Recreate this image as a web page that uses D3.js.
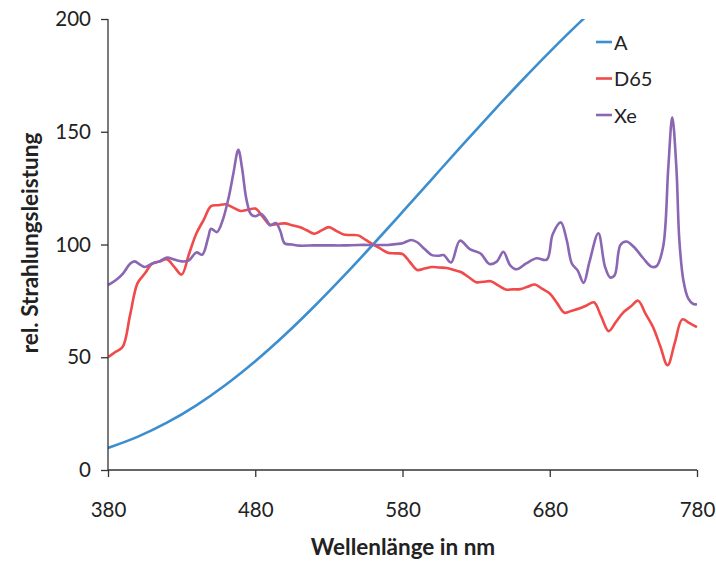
<!DOCTYPE html>
<html><head><meta charset="utf-8">
<script src="https://cdn.jsdelivr.net/npm/d3@7"></script>
<style>body{margin:0;background:#fff;} text{font-family:Lato,"Open Sans",sans-serif;fill:#222;}</style>
</head><body><svg id="c" width="716" height="561"></svg>
<script>
const xTicks = [380, 480, 580, 680, 780];
const yTicks = [0, 50, 100, 150, 200];
const seriesNames = ["A", "D65", "Xe"];
const seriesColors = ["#3d8ecf", "#f04a4a", "#8a66b3"];

const wlA = [380,400,420,440,460,480,500,520,540,560,580,600,620,640,660,680,700,720,740,760,780];
const valA = [9.8,14.71,20.99,28.7,37.81,48.24,59.86,72.5,85.95,100,114.44,129.04,143.62,157.98,171.96,185.43,198.26,210.36,221.67,232.12,241.68];

const wlD65 = [380,385,390,395,400,405,410,415,420,425,430,435,440,445,450,455,460,465,470,475,480,485,490,495,500,505,510,515,520,525,530,535,540,545,550,555,560,565,570,575,580,585,590,595,600,605,610,615,620,625,630,635,640,645,650,655,660,665,670,675,680,685,690,695,700,705,710,715,720,725,730,735,740,745,750,755,760,765,770,775,780];
const valD65 = [49.98,52.31,54.65,68.7,82.75,87.12,91.49,92.46,93.43,90.06,86.68,95.77,104.86,110.94,117.01,117.41,117.81,116.34,114.86,115.39,115.92,112.37,108.81,109.08,109.35,108.58,107.8,106.3,104.79,106.24,107.69,106.05,104.41,104.23,104.05,102.02,100,98.17,96.33,96.06,95.79,92.24,88.69,89.35,90.01,89.8,89.6,88.65,87.7,85.49,83.29,83.49,83.7,81.86,80.03,80.12,80.21,81.25,82.28,80.28,78.28,74,69.72,70.67,71.61,72.98,74.35,67.98,61.6,65.74,69.89,72.49,75.09,69.34,63.59,55.01,46.42,56.61,66.81,65.09,63.38];

const wlXe = [380,385,390,395,398,402,405,410,415,420,425,430,435,440,444,448,450,454,458,462,465,468.5,471,474,477,480,484,488,490,494,497,500,505,510,520,530,540,550,560,570,576,580,586,590,595,600,605,608,613,619,626,633,639,644,648.5,653,657.5,664,671,678,682,687.5,691.5,695,699,703,707,713,717.5,721,724,728,732,737,743.5,749,752.5,757,760.5,763.2,766,768,770.7,774,777.5,780];
const valXe = [82,84,87,91.5,92.5,91,90,91.5,92.5,94.2,93.3,92.5,93,96.5,95.5,103,107,105.5,111,121,131,142,134,120,113.5,112.5,113.5,110.5,108.5,109.5,106,100.5,100,99.5,99.6,99.6,99.6,99.8,99.8,99.8,100.2,100.6,102,101,98,95.3,95,95.3,92,101.7,97.8,96,91.4,92.4,96.8,90.9,89,91.6,93.9,93.3,104.5,109.8,102,91.6,88.4,83,92.4,105,90.2,85.4,86.3,99.8,101.3,99,93.9,90.2,90.4,99,134,156.4,134,102,84.3,76.1,73.6,73.5];

const svg = d3.select("#c");
const x = d3.scaleLinear().domain([380, 780]).range([108, 697]);
const y = d3.scaleLinear().domain([0, 200]).range([470, 19]);

svg.append("defs").append("clipPath").attr("id","clip")
  .append("rect").attr("x",108).attr("y",19).attr("width",600).attr("height",451);

const series = [
  {wl: wlA, v: valA},
  {wl: wlD65, v: valD65},
  {wl: wlXe, v: valXe}
];
const line = d3.line().x(d => x(d[0])).y(d => y(d[1])).curve(d3.curveCatmullRom.alpha(0.5));
const g = svg.append("g").attr("clip-path","url(#clip)");
series.forEach((s, i) => {
  g.append("path").datum(s.wl.map((w, j) => [w, s.v[j]]))
    .attr("d", line).attr("fill","none")
    .attr("stroke", seriesColors[i]).attr("stroke-width", 2.6)
    .attr("stroke-linejoin","round");
});

const yAxis = svg.append("g").attr("transform","translate(108,0)")
  .call(d3.axisLeft(y).tickValues(yTicks).tickSize(7).tickPadding(10).tickFormat(d3.format("d")));
const xAxis = svg.append("g").attr("transform","translate(0,470)")
  .call(d3.axisBottom(x).tickValues(xTicks).tickSize(7).tickPadding(25).tickFormat(d3.format("d")));
[yAxis, xAxis].forEach(a => {
  a.select(".domain").attr("stroke","#333").attr("stroke-width",1.3);
  a.selectAll(".tick line").attr("stroke","#333").attr("stroke-width",1.3);
  a.selectAll(".tick text").style("font-family","Lato,'Open Sans',sans-serif").style("font-size","20.5px").attr("fill","#222");
});
yAxis.select(".domain").attr("d","M0,19V470");
xAxis.select(".domain").attr("d","M108,0H697");

svg.append("text").attr("x", 403).attr("y", 555).attr("text-anchor","middle")
  .style("font-size","22.5px").style("font-weight","bold").text("Wellenlänge in nm");
svg.append("text").attr("transform","translate(38,243) rotate(-90)").attr("text-anchor","middle")
  .style("font-size","22.5px").style("font-weight","bold").text("rel. Strahlungsleistung");

const leg = svg.append("g");
seriesNames.forEach((n, i) => {
  const ly = 42 + i * 36.5;
  leg.append("line").attr("x1",596).attr("x2",612).attr("y1",ly).attr("y2",ly)
    .attr("stroke", seriesColors[i]).attr("stroke-width",2.6);
  leg.append("text").attr("x",614).attr("y",ly+7.5).style("font-size","20px").text(n);
});
</script></body></html>
